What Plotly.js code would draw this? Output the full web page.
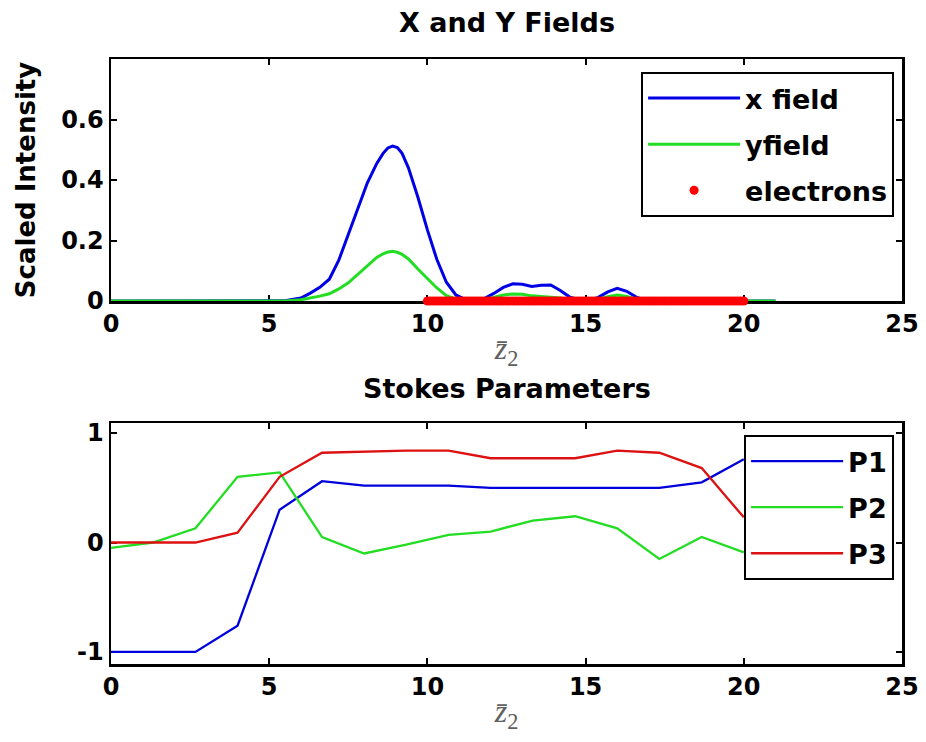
<!DOCTYPE html>
<html>
<head>
<meta charset="utf-8">
<script src="https://cdn.plot.ly/plotly-3.0.1.min.js"></script>
<style>html,body{margin:0;padding:0;background:#fff;}#chart{width:926px;height:742px;}</style>
</head>
<body>
<div id="chart"></div>
<script>
// ---- Top panel: X and Y fields ----
const zField = [0, 5.0, 5.5, 6.0, 6.3, 6.6, 6.9, 7.2, 7.5, 7.8, 8.1, 8.4, 8.6, 8.75, 8.9, 9.05, 9.2, 9.4, 9.7, 10.0, 10.3, 10.6, 10.9, 11.2, 11.5, 11.8, 12.1, 12.4, 12.7, 13.0, 13.3, 13.6, 13.9, 14.2, 14.5, 14.8, 15.1, 15.4, 15.7, 16.0, 16.3, 16.6, 16.9, 17.2, 21];
const xField = [0, 0, 0.001, 0.01, 0.026, 0.045, 0.072, 0.135, 0.218, 0.303, 0.39, 0.455, 0.488, 0.506, 0.512, 0.507, 0.488, 0.44, 0.343, 0.235, 0.137, 0.062, 0.02, 0.005, 0.003, 0.008, 0.025, 0.045, 0.057, 0.055, 0.048, 0.052, 0.053, 0.035, 0.013, 0.004, 0.002, 0.012, 0.03, 0.042, 0.032, 0.013, 0.003, 0, 0];
const yField = [0, 0, 0, 0.004, 0.009, 0.016, 0.024, 0.04, 0.06, 0.088, 0.118, 0.144, 0.156, 0.162, 0.164, 0.161, 0.154, 0.139, 0.106, 0.075, 0.043, 0.018, 0.006, 0.002, 0.001, 0.004, 0.012, 0.02, 0.023, 0.022, 0.017, 0.015, 0.014, 0.01, 0.004, 0.001, 0.001, 0.005, 0.014, 0.02, 0.015, 0.006, 0.001, 0, 0];
const electronZ = [10.0,10.1,10.2,10.3,10.4,10.5,10.6,10.7,10.8,10.9,11.0,11.1,11.2,11.3,11.4,11.5,11.6,11.7,11.8,11.9,12.0,12.1,12.2,12.3,12.4,12.5,12.6,12.7,12.8,12.9,13.0,13.1,13.2,13.3,13.4,13.5,13.6,13.7,13.8,13.9,14.0,14.1,14.2,14.3,14.4,14.5,14.6,14.7,14.8,14.9,15.0,15.1,15.2,15.3,15.4,15.5,15.6,15.7,15.8,15.9,16.0,16.1,16.2,16.3,16.4,16.5,16.6,16.7,16.8,16.9,17.0,17.1,17.2,17.3,17.4,17.5,17.6,17.7,17.8,17.9,18.0,18.1,18.2,18.3,18.4,18.5,18.6,18.7,18.8,18.9,19.0,19.1,19.2,19.3,19.4,19.5,19.6,19.7,19.8,19.9,20.0];
const electronY = electronZ.map(() => 0);

// ---- Bottom panel: Stokes parameters ----
const zStokes = [0, 1.33, 2.67, 4.0, 5.33, 6.67, 8.0, 9.33, 10.67, 12.0, 13.33, 14.67, 16.0, 17.33, 18.67, 20.0];
const P1 = [-1, -1, -1, -0.76, 0.30, 0.56, 0.52, 0.52, 0.52, 0.50, 0.50, 0.50, 0.50, 0.50, 0.55, 0.76];
const P2 = [-0.05, 0.0, 0.13, 0.60, 0.64, 0.05, -0.10, -0.02, 0.07, 0.10, 0.20, 0.24, 0.13, -0.15, 0.05, -0.09];
const P3 = [0, 0, 0, 0.09, 0.60, 0.82, 0.83, 0.84, 0.84, 0.77, 0.77, 0.77, 0.84, 0.82, 0.68, 0.23];

const xTicks = [0, 5, 10, 15, 20, 25];
const topYTicks = [0, 0.2, 0.4, 0.6];
const topYLabels = ['0', '0.2', '0.4', '0.6'];
const botYTicks = [-1, 0, 1];
const botYLabels = ['-1', '0', '1'];

const FONT = 'DejaVu Sans, Liberation Sans, Arial, sans-serif';
const tickFont = {family: FONT, size: 24, color: '#000', weight: 'bold'};
const labelFont = {family: 'Liberation Serif, DejaVu Serif, serif', size: 32, color: '#606060'};

const traces = [
  {x: zField, y: xField, mode: 'lines', name: 'x field', line: {color: '#0000e6', width: 3}, xaxis: 'x', yaxis: 'y', legend: 'legend', legendgroup: 'a', cliponaxis: false},
  {x: zField, y: yField, mode: 'lines', name: 'yfield', line: {color: '#22dd22', width: 3}, xaxis: 'x', yaxis: 'y', legend: 'legend', legendgroup: 'b', cliponaxis: false},
  {x: electronZ, y: electronY, mode: 'markers', name: 'electrons', marker: {color: '#ff0000', size: 9}, xaxis: 'x', yaxis: 'y', legend: 'legend', legendgroup: 'c', cliponaxis: false},
  {x: zStokes, y: P1, mode: 'lines', name: 'P1', line: {color: '#0000dd', width: 2.3}, xaxis: 'x2', yaxis: 'y2', legend: 'legend2', legendgroup: 'd'},
  {x: zStokes, y: P2, mode: 'lines', name: 'P2', line: {color: '#22dd22', width: 2.3}, xaxis: 'x2', yaxis: 'y2', legend: 'legend2', legendgroup: 'e'},
  {x: zStokes, y: P3, mode: 'lines', name: 'P3', line: {color: '#dd1111', width: 2.3}, xaxis: 'x2', yaxis: 'y2', legend: 'legend2', legendgroup: 'f'}
];

function xAxis(anchor) {
  return {
    anchor: anchor, domain: [0, 1], range: [0, 25], tickvals: xTicks,
    ticks: 'inside', ticklen: 6, tickwidth: 2, tickcolor: '#000',
    showline: true, linewidth: 2.5, linecolor: '#000', mirror: 'ticks',
    showgrid: false, zeroline: false, tickfont: tickFont, layer: 'below traces',
    title: {text: '<i>z\u0304</i><sub>2</sub>', font: labelFont, standoff: 0}
  };
}
function yAxis(anchor, domain, range, vals, text, title) {
  const ax = {
    anchor: anchor, domain: domain, range: range, tickvals: vals, ticktext: text,
    ticks: 'inside', ticklen: 6, tickwidth: 2, tickcolor: '#000',
    showline: true, linewidth: 2.5, linecolor: '#000', mirror: 'ticks',
    showgrid: false, zeroline: false, tickfont: tickFont, layer: 'below traces'
  };
  if (title) ax.title = {text: title, font: {family: FONT, size: 26, color: '#000', weight: 'bold'}, standoff: 18};
  return ax;
}

const legendBase = {
  xanchor: 'right', yanchor: 'top', x: 0.99,
  bgcolor: '#fff', bordercolor: '#000', borderwidth: 2,
  font: {family: FONT, size: 27, color: '#000', weight: 'bold'},
  tracegroupgap: 8, itemwidth: 92
};

const layout = {
  width: 926, height: 742,
  margin: {l: 111, r: 24, t: 59, b: 78},
  paper_bgcolor: '#fff', plot_bgcolor: '#fff',
  showlegend: true,
  xaxis: xAxis('y'),
  yaxis: yAxis('x', [0.6, 1], [0, 0.8], topYTicks, topYLabels, 'Scaled Intensity'),
  xaxis2: xAxis('y2'),
  yaxis2: yAxis('x2', [0, 0.398], [-1.11, 1.09], botYTicks, botYLabels, null),
  legend: Object.assign({}, legendBase, {y: 0.9785}),
  legend2: Object.assign({}, legendBase, {y: 0.3785}),
  annotations: [
    {text: 'X and Y Fields', xref: 'paper', yref: 'paper', x: 0.5, y: 1.061, xanchor: 'center', yanchor: 'middle', showarrow: false, font: {family: FONT, size: 27, color: '#000', weight: 'bold'}},
    {text: 'Stokes Parameters', xref: 'paper', yref: 'paper', x: 0.5, y: 0.455, xanchor: 'center', yanchor: 'middle', showarrow: false, font: {family: FONT, size: 27, color: '#000', weight: 'bold'}}
  ]
};

Plotly.newPlot('chart', traces, layout, {displayModeBar: false, staticPlot: true});
</script>
</body>
</html>
